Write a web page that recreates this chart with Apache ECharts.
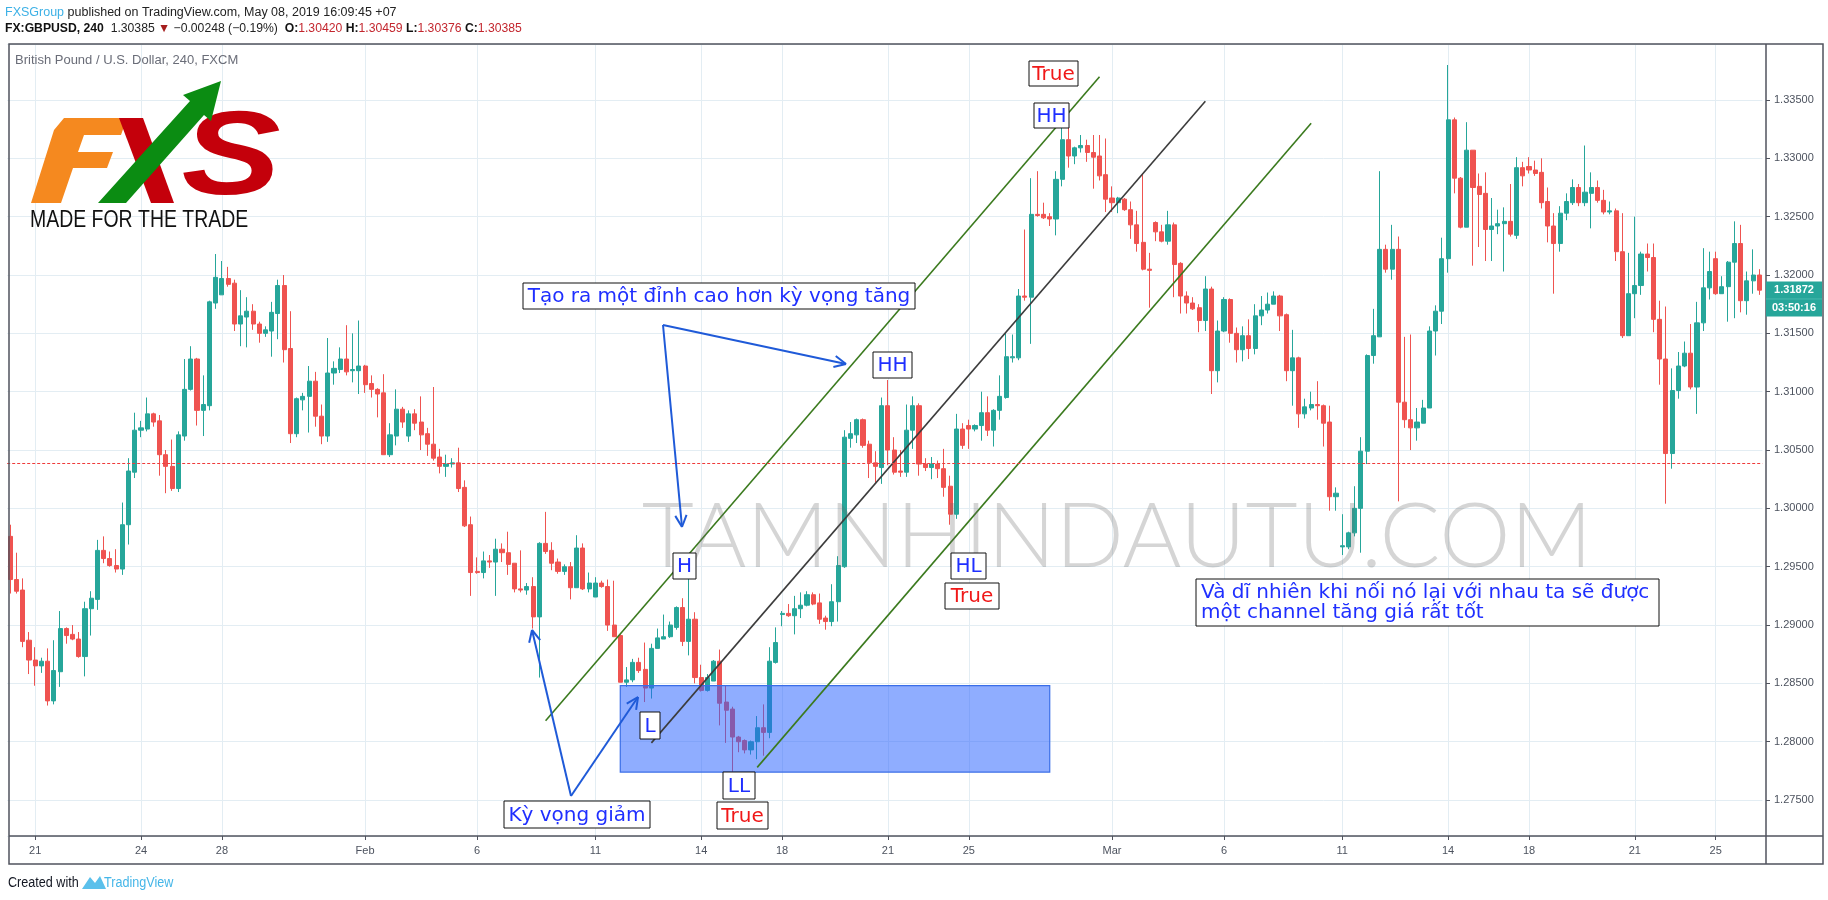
<!DOCTYPE html>
<html><head><meta charset="utf-8">
<script src="https://cdn.jsdelivr.net/npm/echarts@6/dist/echarts.min.js"></script>
<style>html,body{margin:0;padding:0;background:#fff;}#c{width:1828px;height:900px;}</style>
</head><body><div id="c"></div>
<script>
// ---- data (GBPUSD 240-minute candles) ----
const open = [1.2976,1.2939,1.2930,1.2887,1.2870,1.2865,1.2869,1.2835,1.2860,1.2897,
1.2892,1.2888,1.2873,1.2914,1.2922,1.2964,1.2957,1.2951,1.2948,1.2986,
1.3031,1.3067,1.3068,1.3081,1.3075,1.3046,1.3036,1.3017,1.3062,1.3102,
1.3128,1.3084,1.3088,1.3176,1.3183,1.3197,1.3193,1.3158,1.3164,1.3169,
1.3158,1.3150,1.3152,1.3167,1.3191,1.3137,1.3064,1.3093,1.3096,1.3109,
1.3079,1.3062,1.3116,1.3119,1.3128,1.3118,1.3118,1.3122,1.3107,1.3102,
1.3099,1.3046,1.3062,1.3085,1.3062,1.3081,1.3074,1.3064,1.3055,1.3044,
1.3036,1.3038,1.3039,1.3018,1.2986,1.2946,1.2945,1.2955,1.2954,1.2965,
1.2962,1.2953,1.2931,1.2930,1.2933,1.2907,1.2970,1.2964,1.2954,1.2946,
1.2950,1.2932,1.2966,1.2931,1.2924,1.2936,1.2933,1.2900,1.2891,1.2851,
1.2853,1.2868,1.2862,1.2846,1.2880,1.2888,1.2890,1.2898,1.2915,1.2886,
1.2905,1.2855,1.2844,1.2852,1.2869,1.2834,1.2828,1.2804,1.2801,1.2793,
1.2800,1.2812,1.2808,1.2868,1.2909,1.2910,1.2908,1.2914,1.2917,1.2926,
1.2919,1.2906,1.2903,1.2920,1.2950,1.3060,1.3063,1.3076,1.3055,1.3039,
1.3035,1.3088,1.3050,1.3032,1.3031,1.3067,1.3088,1.3038,1.3035,1.3038,
1.3034,1.3019,1.2995,1.3068,1.3071,1.3068,1.3071,1.3082,1.3067,1.3084,
1.3095,1.3129,1.3129,1.3182,1.3181,1.3252,1.3252,1.3250,1.3248,1.3282,
1.3316,1.3302,1.3309,1.3311,1.3305,1.3302,1.3286,1.3266,1.3262,1.3265,
1.3256,1.3243,1.3228,1.3205,1.3245,1.3237,1.3229,1.3243,1.3210,1.3182,
1.3176,1.3172,1.3161,1.3188,1.3118,1.3152,1.3179,1.3150,1.3136,1.3148,
1.3137,1.3165,1.3170,1.3175,1.3182,1.3166,1.3118,1.3129,1.3081,1.3086,
1.3089,1.3088,1.3074,1.3010,1.2967,1.2967,1.2979,1.3000,1.3049,1.3131,
1.3147,1.3222,1.3205,1.3222,1.3091,1.3076,1.3069,1.3073,1.3086,1.3152,
1.3169,1.3214,1.3333,1.3283,1.3241,1.3307,1.3276,1.3270,1.3239,1.3242,
1.3244,1.3246,1.3234,1.3292,1.3293,1.3290,1.3288,1.3263,1.3242,1.3227,
1.3253,1.3262,1.3275,1.3262,1.3270,1.3275,1.3264,1.3254,1.3255,1.3220,
1.3148,1.3184,1.3191,1.3218,1.3215,1.3162,1.3128,1.3047,1.3101,1.3122,
1.3133,1.3104,1.3159,1.3189,1.3214,1.3184,1.3190,1.3211,1.3227,1.3178,
1.3195,1.3200];
const close = [1.2939,1.2929,1.2886,1.2870,1.2865,1.2869,1.2835,1.2861,1.2897,1.2891,
1.2888,1.2873,1.2914,1.2923,1.2964,1.2957,1.2951,1.2948,1.2986,1.3032,
1.3067,1.3069,1.3081,1.3074,1.3046,1.3036,1.3017,1.3063,1.3102,1.3128,
1.3084,1.3089,1.3177,1.3198,1.3197,1.3192,1.3158,1.3165,1.3169,1.3158,
1.3150,1.3153,1.3168,1.3191,1.3136,1.3064,1.3094,1.3096,1.3109,1.3079,
1.3062,1.3116,1.3120,1.3128,1.3117,1.3119,1.3122,1.3106,1.3102,1.3098,
1.3046,1.3063,1.3085,1.3074,1.3081,1.3073,1.3063,1.3055,1.3043,1.3036,
1.3038,1.3039,1.3017,1.2985,1.2945,1.2945,1.2955,1.2954,1.2965,1.2962,
1.2952,1.2931,1.2930,1.2933,1.2907,1.2970,1.2963,1.2953,1.2946,1.2950,
1.2932,1.2966,1.2931,1.2936,1.2936,1.2933,1.2900,1.2890,1.2851,1.2853,
1.2868,1.2861,1.2846,1.2880,1.2889,1.2890,1.2900,1.2915,1.2886,1.2905,
1.2855,1.2844,1.2855,1.2869,1.2833,1.2827,1.2804,1.2800,1.2793,1.2800,
1.2812,1.2808,1.2869,1.2885,1.2910,1.2908,1.2914,1.2917,1.2926,1.2918,
1.2905,1.2903,1.2920,1.2951,1.3061,1.3064,1.3076,1.3054,1.3039,1.3036,
1.3088,1.3050,1.3031,1.3031,1.3067,1.3088,1.3038,1.3035,1.3038,1.3034,
1.3018,1.2995,1.3068,1.3054,1.3068,1.3071,1.3082,1.3067,1.3084,1.3096,
1.3130,1.3130,1.3182,1.3181,1.3252,1.3251,1.3249,1.3248,1.3282,1.3316,
1.3302,1.3309,1.3311,1.3305,1.3301,1.3285,1.3265,1.3262,1.3266,1.3256,
1.3243,1.3227,1.3205,1.3204,1.3237,1.3229,1.3243,1.3209,1.3182,1.3176,
1.3171,1.3161,1.3188,1.3118,1.3152,1.3179,1.3150,1.3136,1.3148,1.3137,
1.3165,1.3170,1.3175,1.3182,1.3165,1.3118,1.3129,1.3081,1.3087,1.3089,
1.3088,1.3073,1.3010,1.3013,1.2968,1.2979,1.3000,1.3049,1.3131,1.3148,
1.3222,1.3205,1.3222,1.3091,1.3076,1.3069,1.3074,1.3086,1.3152,1.3169,
1.3214,1.3333,1.3283,1.3241,1.3307,1.3275,1.3269,1.3239,1.3242,1.3244,
1.3246,1.3235,1.3292,1.3285,1.3290,1.3287,1.3262,1.3242,1.3227,1.3253,
1.3263,1.3275,1.3262,1.3271,1.3275,1.3264,1.3254,1.3255,1.3220,1.3148,
1.3184,1.3191,1.3218,1.3215,1.3162,1.3128,1.3047,1.3101,1.3122,1.3133,
1.3104,1.3159,1.3189,1.3203,1.3184,1.3190,1.3211,1.3227,1.3178,1.3195,
1.3200,1.3187];
const low = [1.2927,1.2927,1.2881,1.2858,1.2848,1.2859,1.2831,1.2832,1.2847,1.2884,
1.2887,1.2872,1.2856,1.2891,1.2913,1.2953,1.2950,1.2945,1.2943,1.2969,
1.3026,1.3061,1.3066,1.3070,1.3028,1.3013,1.3015,1.3014,1.3058,1.3101,
1.3071,1.3062,1.3084,1.3171,1.3183,1.3190,1.3152,1.3139,1.3138,1.3153,
1.3142,1.3147,1.3130,1.3145,1.3125,1.3056,1.3061,1.3084,1.3065,1.3070,
1.3055,1.3057,1.3106,1.3116,1.3114,1.3108,1.3098,1.3099,1.3095,1.3078,
1.3046,1.3044,1.3054,1.3069,1.3057,1.3067,1.3050,1.3045,1.3041,1.3030,
1.3027,1.3035,1.3014,1.2984,1.2925,1.2944,1.2940,1.2949,1.2925,1.2954,
1.2943,1.2928,1.2928,1.2926,1.2897,1.2855,1.2961,1.2947,1.2944,1.2943,
1.2922,1.2932,1.2930,1.2928,1.2924,1.2932,1.2895,1.2890,1.2851,1.2847,
1.2851,1.2859,1.2834,1.2837,1.2880,1.2888,1.2889,1.2896,1.2882,1.2874,
1.2850,1.2843,1.2843,1.2852,1.2814,1.2799,1.2774,1.2791,1.2790,1.2789,
1.2785,1.2788,1.2803,1.2867,1.2899,1.2907,1.2892,1.2906,1.2916,1.2917,
1.2901,1.2896,1.2899,1.2903,1.2949,1.3052,1.3056,1.3052,1.3026,1.3022,
1.3021,1.3037,1.3029,1.3027,1.3027,1.3051,1.3028,1.3032,1.3025,1.3026,
1.3010,1.2986,1.2991,1.3051,1.3051,1.3066,1.3058,1.3062,1.3053,1.3076,
1.3094,1.3125,1.3127,1.3178,1.3141,1.3250,1.3248,1.3242,1.3234,1.3276,
1.3292,1.3295,1.3305,1.3297,1.3274,1.3281,1.3254,1.3254,1.3253,1.3255,
1.3231,1.3220,1.3204,1.3172,1.3229,1.3228,1.3226,1.3181,1.3167,1.3167,
1.3170,1.3151,1.3152,1.3098,1.3108,1.3151,1.3142,1.3125,1.3126,1.3128,
1.3132,1.3157,1.3167,1.3175,1.3152,1.3109,1.3088,1.3069,1.3077,1.3084,
1.3076,1.3053,1.2998,1.2998,1.2960,1.2965,1.2976,1.2962,1.3038,1.3124,
1.3147,1.3202,1.3196,1.3006,1.3069,1.3050,1.3058,1.3073,1.3086,1.3131,
1.3158,1.3202,1.3270,1.3240,1.3241,1.3208,1.3224,1.3212,1.3212,1.3235,
1.3203,1.3233,1.3231,1.3276,1.3287,1.3285,1.3257,1.3228,1.3184,1.3220,
1.3247,1.3260,1.3259,1.3259,1.3240,1.3262,1.3252,1.3252,1.3212,1.3146,
1.3148,1.3163,1.3183,1.3203,1.3151,1.3106,1.3004,1.3034,1.3094,1.3121,
1.3102,1.3081,1.3152,1.3179,1.3183,1.3184,1.3160,1.3163,1.3168,1.3166,
1.3184,1.3183];
const high = [1.2986,1.2962,1.2940,1.2894,1.2881,1.2872,1.2880,1.2887,1.2912,1.2898,
1.2900,1.2894,1.2920,1.2929,1.2973,1.2976,1.2963,1.2965,1.3005,1.3043,
1.3082,1.3075,1.3095,1.3082,1.3080,1.3050,1.3059,1.3066,1.3128,1.3139,
1.3129,1.3114,1.3178,1.3218,1.3212,1.3207,1.3196,1.3187,1.3181,1.3175,
1.3160,1.3156,1.3177,1.3196,1.3200,1.3169,1.3095,1.3099,1.3122,1.3117,
1.3089,1.3146,1.3126,1.3138,1.3157,1.3150,1.3161,1.3123,1.3114,1.3103,
1.3115,1.3073,1.3102,1.3087,1.3084,1.3085,1.3096,1.3069,1.3104,1.3051,
1.3046,1.3043,1.3052,1.3024,1.2993,1.2958,1.2963,1.2960,1.2974,1.2970,
1.2980,1.2953,1.2964,1.2936,1.2941,1.2971,1.2997,1.2971,1.2957,1.2952,
1.2954,1.2977,1.2970,1.2945,1.2941,1.2938,1.2939,1.2938,1.2892,1.2864,
1.2871,1.2872,1.2885,1.2884,1.2897,1.2909,1.2903,1.2916,1.2923,1.2945,
1.2911,1.2866,1.2858,1.2870,1.2879,1.2848,1.2830,1.2805,1.2802,1.2801,
1.2822,1.2832,1.2881,1.2898,1.2912,1.2918,1.2925,1.2928,1.2929,1.2928,
1.2927,1.2908,1.2935,1.2959,1.3067,1.3074,1.3077,1.3077,1.3058,1.3049,
1.3095,1.3110,1.3061,1.3050,1.3089,1.3096,1.3090,1.3043,1.3044,1.3041,
1.3051,1.3028,1.3081,1.3073,1.3076,1.3072,1.3100,1.3096,1.3085,1.3114,
1.3150,1.3149,1.3188,1.3239,1.3283,1.3289,1.3262,1.3253,1.3289,1.3335,
1.3330,1.3310,1.3320,1.3316,1.3320,1.3320,1.3317,1.3276,1.3267,1.3266,
1.3263,1.3255,1.3287,1.3219,1.3246,1.3243,1.3255,1.3245,1.3211,1.3186,
1.3181,1.3175,1.3199,1.3190,1.3161,1.3181,1.3180,1.3155,1.3156,1.3162,
1.3175,1.3182,1.3185,1.3186,1.3183,1.3167,1.3153,1.3130,1.3094,1.3100,
1.3109,1.3089,1.3088,1.3018,1.2995,1.2980,1.3019,1.3061,1.3132,1.3171,
1.3289,1.3226,1.3243,1.3233,1.3147,1.3149,1.3086,1.3093,1.3156,1.3174,
1.3232,1.3380,1.3335,1.3284,1.3331,1.3307,1.3287,1.3288,1.3266,1.3256,
1.3258,1.3278,1.3301,1.3297,1.3301,1.3298,1.3300,1.3275,1.3253,1.3259,
1.3270,1.3282,1.3278,1.3311,1.3288,1.3281,1.3273,1.3263,1.3257,1.3253,
1.3219,1.3250,1.3220,1.3227,1.3227,1.3178,1.3173,1.3120,1.3134,1.3143,
1.3158,1.3177,1.3223,1.3220,1.3220,1.3199,1.3212,1.3246,1.3243,1.3203,
1.3222,1.3205];

// time-axis tick labels (bar index -> label)
const tickIdx  = [4, 21, 34, 57, 75, 94, 111, 124, 141, 154, 177, 195, 214, 231, 244, 261, 274];
const tickText = ['21','24','28','Feb','6','11','14','18','21','25','Mar','6','11','14','18','21','25'];

// price levels
const lastClose = 1.31872;
const refPrice = 1.30385;
const yMin = 1.27192, yMax = 1.33980;

// drawn objects in data coordinates [bar index, price]
const zoneFrom = [98, 1.2848];
const zoneTo   = [167, 1.2774];
const channelUpper = [[86, 1.2818], [175, 1.3370]];
const channelMid   = [[103, 1.2799], [192, 1.3349]];
const channelLower = [[120, 1.2778], [209, 1.3330]];

// ---- chart ----
const slots = open.map((_, i) => String(i));
const tickLabel = {};
tickIdx.forEach((k, j) => { tickLabel[k] = tickText[j]; });
const candles = open.map((o, i) => [o, close[i], low[i], high[i]]);

const chart = echarts.init(document.getElementById('c'), null, {renderer: 'canvas'});
const FONT = "'Liberation Sans', Arial, sans-serif";
const GRID = '#e3edf3';
const hs = (c, w, s) => ({color: c, fontSize: s || 12.5, fontWeight: w || 'normal', fontFamily: FONT});

const option = {
  animation: false,
  backgroundColor: '#ffffff',
  title: [
    {left: 5, top: 6, padding: 0,
     text: '{a|FXSGroup}{b| published on TradingView.com, May 08, 2019 16:09:45 +07}',
     textStyle: {fontWeight: 'normal', rich: {a: hs('#3db1e6'), b: hs('#222')}}},
    {left: 5, top: 23, padding: 0,
     text: '{k|FX:GBPUSD, 240}{n|  1.30385 }{d|▼}{n| −0.00248 (−0.19%)  }{k|O:}{r|1.30420}{k| H:}{r|1.30459}{k| L:}{r|1.30376}{k| C:}{r|1.30385}',
     textStyle: {fontWeight: 'normal', rich: {k: hs('#111', 'bold', 12.2), n: hs('#222', 'normal', 12.2), d: hs('#a51d1d', 'normal', 12.2), r: hs('#c3262e', 'normal', 12.2)}}},
    {left: 15, top: 54, padding: 0, text: 'British Pound / U.S. Dollar, 240, FXCM',
     textStyle: {color: '#6a6d78', fontSize: 13, fontWeight: 'normal', fontFamily: FONT}}
  ],
  grid: {left: 7.2, top: 44, width: 1755.2, height: 792, show: false},
  xAxis: {
    type: 'category', data: slots, boundaryGap: true,
    axisLine: {show: false},
    axisTick: {show: true, alignWithLabel: true, length: 4,
      interval: (i) => tickLabel[i] !== undefined, lineStyle: {color: '#50535e'}},
    axisLabel: {interval: (i) => tickLabel[i] !== undefined,
      formatter: (v, i) => tickLabel[i] || '', color: '#4c525e', fontSize: 11, margin: 9, fontFamily: FONT},
    splitLine: {show: false}
  },
  yAxis: {
    type: 'value', position: 'right', min: yMin, max: yMax, splitNumber: 14, offset: 3.6,
    axisLine: {show: false},
    axisTick: {show: true, length: 4, lineStyle: {color: '#50535e'}},
    axisLabel: {formatter: (v) => v.toFixed(5), color: '#4c525e', fontSize: 11, margin: 8,
      showMinLabel: false, showMaxLabel: false, fontFamily: FONT},
    splitLine: {lineStyle: {color: GRID, width: 1}}
  },
  series: [
    {type: 'line', data: [], z: 1, silent: true,
     markLine: {silent: true, z: 1, symbol: ['none', 'none'], label: {show: false},
       lineStyle: {color: GRID, width: 1, type: 'solid'},
       data: tickIdx.map(i => ({xAxis: i}))}},
    {type: 'candlestick', data: candles, z: 2, barWidth: 4.6, silent: true,
     itemStyle: {color: '#26a69a', color0: '#ef5350', borderColor: '#26a69a', borderColor0: '#ef5350', borderWidth: 1}},
    {type: 'line', data: [], z: 5, silent: true,
     markArea: {silent: true, z: 3,
       itemStyle: {color: 'rgba(41,98,255,0.52)', borderColor: '#3a6ee8', borderWidth: 1.2},
       data: [[{coord: zoneFrom}, {coord: zoneTo}]]},
     markLine: {silent: true, z: 4, precision: 6, symbol: ['none', 'none'], label: {show: false},
       data: [
         [{coord: channelUpper[0], lineStyle: {color: '#3b7a1e', width: 1.6, type: 'solid'}}, {coord: channelUpper[1]}],
         [{coord: channelMid[0], lineStyle: {color: '#3c3c3c', width: 1.6, type: 'solid'}}, {coord: channelMid[1]}],
         [{coord: channelLower[0], lineStyle: {color: '#3b7a1e', width: 1.6, type: 'solid'}}, {coord: channelLower[1]}],
         {yAxis: refPrice, lineStyle: {color: '#ef3b3b', width: 1, type: [3, 2]}}
       ]}}
  ]
};
chart.setOption(option);

// ---- overlay: frame, logo, watermark, annotations ----
const g = [];
const Z = 100;
function line(x1, y1, x2, y2, color, w, z) {
  g.push({type: 'line', z: z || Z, silent: true, shape: {x1, y1, x2, y2}, style: {stroke: color, lineWidth: w}});
}
function text(x, y, t, font, fill, align, z, extra) {
  g.push(Object.assign({type: 'text', z: z || Z + 1, silent: true, x, y,
    style: {text: t, font, fill, align: align || 'left', verticalAlign: 'middle',
            textAlign: align || 'left', textVerticalAlign: 'middle'}}, extra || {}));
}
function box(x1, y1, x2, y2, t, color) {
  g.push({type: 'rect', z: Z, silent: true, shape: {x: x1, y: y1, width: x2 - x1, height: y2 - y1},
    style: {fill: '#ffffff', stroke: '#111', lineWidth: 1}});
  text((x1 + x2) / 2, (y1 + y2) / 2 + 1, t, "20px 'DejaVu Sans'", color, 'center');
}
function arrow(x1, y1, x2, y2) {
  const c = '#1f5ad8';
  line(x1, y1, x2, y2, c, 2);
  const a = Math.atan2(y2 - y1, x2 - x1), L = 13;
  [0.45, -0.45].forEach(d => line(x2, y2, x2 - L * Math.cos(a + d), y2 - L * Math.sin(a + d), c, 2));
}

// frame
g.push({type: 'rect', z: Z, silent: true, shape: {x: 9, y: 44, width: 1814, height: 820},
  style: {fill: 'none', stroke: '#50535e', lineWidth: 1.5}});
line(1766, 44, 1766, 864, '#50535e', 1.5);
line(9, 836, 1823, 836, '#50535e', 1.5);

// watermark
text(1117, 538, 'TAMNHINDAUTU.COM', "300 90px Lato, 'Open Sans', sans-serif", 'rgba(105,105,105,0.28)', 'center', 60);

// logo
g.push({type: 'polygon', z: Z, silent: true,
  shape: {points: [[64,118],[127,118],[121,135],[84,135],[78,152],[113,152],[107,168],[73,168],[61,203],[31,203],[54,130]]},
  style: {fill: '#f5891f'}});
g.push({type: 'polygon', z: Z, silent: true, shape: {points: [[119,118],[143,118],[174,203],[151,203]]}, style: {fill: '#c4000b'}});
text(231, 161, 'S', "italic bold 119px 'Liberation Sans'", '#c4000b', 'center', Z, {scaleX: 1.25, originX: 0, originY: 0});
g.push({type: 'polygon', z: Z + 1, silent: true,
  shape: {points: [[98,203],[190,101],[183,95],[221,81],[211,121],[204,115],[126,203]]}, style: {fill: '#0b8c12'}});
text(30, 220, 'MADE FOR THE TRADE', "24px 'Liberation Sans'", '#111', 'left', Z, {scaleX: 0.81, originX: 0, originY: 0});

// annotations
box(1029, 61, 1078, 86, 'True', '#f01818');
box(1034, 103, 1069, 128, 'HH', '#1f2fff');
box(523, 283, 915, 309, 'Tạo ra một đỉnh cao hơn kỳ vọng tăng', '#1f2fff');
box(873, 352, 912, 378, 'HH', '#1f2fff');
box(673, 553, 696, 579, 'H', '#1f2fff');
box(951, 553, 986, 579, 'HL', '#1f2fff');
box(945, 583, 999, 609, 'True', '#f01818');
box(640, 712, 660, 739, 'L', '#1f2fff');
box(723, 772, 755, 799, 'LL', '#1f2fff');
box(717, 802, 768, 829, 'True', '#f01818');
box(504, 801, 650, 828, 'Kỳ vọng giảm', '#1f2fff');
g.push({type: 'rect', z: Z, silent: true, shape: {x: 1196, y: 579, width: 463, height: 47},
  style: {fill: '#ffffff', stroke: '#111', lineWidth: 1}});
text(1201, 593, 'Và dĩ nhiên khi nối nó lại với nhau ta sẽ được', "20px 'DejaVu Sans'", '#1f2fff', 'left');
text(1201, 613, 'một channel tăng giá rất tốt', "20px 'DejaVu Sans'", '#1f2fff', 'left');

arrow(663, 325, 846, 364);
arrow(663, 325, 682, 527);
arrow(571, 796, 532, 630);
arrow(571, 796, 638, 697);

// last price tag on the price axis
const yp = chart.convertToPixel({yAxisIndex: 0}, lastClose);
g.push({type: 'rect', z: Z, silent: true, shape: {x: 1766, y: yp - 8.5, width: 56, height: 35},
  style: {fill: '#26a69a'}});
line(1766, yp + 9, 1822, yp + 9, '#48b8ad', 1);
text(1794, yp + 0.5, lastClose.toFixed(5), "bold 11px 'Liberation Sans'", '#ffffff', 'center');
text(1794, yp + 18, '03:50:16', "bold 11px 'Liberation Sans'", '#ffffff', 'center');

// footer
text(8, 883, 'Created with', "14px 'Liberation Sans Narrow', 'Liberation Sans'", '#131722', 'left', Z, {scaleX: 0.9, originX: 0, originY: 0});
g.push({type: 'polygon', z: Z, silent: true, shape: {points: [[82,889],[90,877],[95,883],[100,876],[106,889]]}, style: {fill: '#5bc0eb'}});
text(104, 883, 'TradingView', "14px 'Liberation Sans Narrow', 'Liberation Sans'", '#45b6e8', 'left', Z, {scaleX: 0.9, originX: 0, originY: 0});

chart.setOption({graphic: {elements: g}});
</script>
</body></html>
